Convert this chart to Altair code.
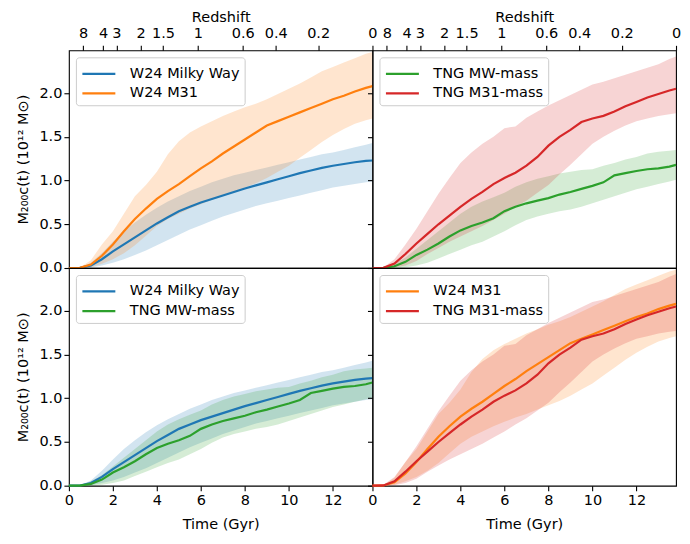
import altair as alt
import pandas as pd

# ---------------- data ----------------
T = [0, 0.5, 1, 1.5, 2, 2.5, 3, 3.5, 4, 4.5, 5, 5.5, 6, 6.5, 7, 7.5, 8, 8.5,
     9, 9.5, 10, 10.5, 11, 11.5, 12, 12.5, 13, 13.5, 13.8]

W24_MW_MED = [0, 0.002, 0.03, 0.10, 0.19, 0.27, 0.35, 0.43, 0.51, 0.58, 0.65, 0.70, 0.75, 0.79, 0.83,
              0.87, 0.91, 0.945, 0.98, 1.015, 1.05, 1.085, 1.115, 1.145, 1.17, 1.19, 1.21, 1.225, 1.23]
W24_MW_LO = [0, 0, 0.005, 0.03, 0.06, 0.10, 0.15, 0.20, 0.26, 0.32, 0.38, 0.44, 0.49, 0.54, 0.59,
             0.63, 0.67, 0.71, 0.74, 0.77, 0.80, 0.83, 0.86, 0.89, 0.92, 0.94, 0.96, 0.98, 0.99]
W24_MW_HI = [0, 0.005, 0.06, 0.17, 0.30, 0.42, 0.52, 0.61, 0.69, 0.76, 0.82, 0.88, 0.93, 0.98, 1.02,
             1.06, 1.09, 1.12, 1.15, 1.18, 1.21, 1.24, 1.27, 1.30, 1.32, 1.35, 1.38, 1.41, 1.43]

W24_M31_MED = [0, 0.002, 0.04, 0.14, 0.27, 0.42, 0.56, 0.68, 0.79, 0.88, 0.96, 1.05, 1.14, 1.22, 1.31,
               1.39, 1.47, 1.55, 1.63, 1.68, 1.73, 1.78, 1.83, 1.88, 1.93, 1.97, 2.02, 2.06, 2.08]
W24_M31_LO = [0, 0, 0.01, 0.05, 0.10, 0.17, 0.26, 0.37, 0.48, 0.56, 0.62, 0.68, 0.73, 0.78, 0.82,
              0.87, 0.92, 0.97, 1.03, 1.10, 1.17, 1.26, 1.35, 1.44, 1.52, 1.59, 1.65, 1.69, 1.71]
W24_M31_HI = [0, 0.005, 0.09, 0.27, 0.42, 0.62, 0.82, 0.95, 1.10, 1.30, 1.45, 1.55, 1.62, 1.68, 1.74,
              1.79, 1.84, 1.88, 1.93, 1.99, 2.05, 2.11, 2.18, 2.25, 2.30, 2.35, 2.40, 2.45, 2.47]

TNG_MW_MED = [0, 0.001, 0.02, 0.07, 0.15, 0.21, 0.28, 0.36, 0.43, 0.48, 0.52, 0.57, 0.65, 0.70, 0.74,
              0.77, 0.80, 0.84, 0.87, 0.905, 0.94, 0.98, 1.06, 1.085, 1.11, 1.13, 1.14, 1.16, 1.18]
TNG_MW_LO = [0, 0, 0.0, 0.01, 0.03, 0.06, 0.11, 0.16, 0.21, 0.26, 0.30, 0.36, 0.42, 0.49, 0.55,
             0.59, 0.62, 0.65, 0.67, 0.70, 0.74, 0.78, 0.82, 0.86, 0.90, 0.93, 0.96, 0.99, 1.01]
TNG_MW_HI = [0, 0.003, 0.05, 0.12, 0.22, 0.32, 0.42, 0.52, 0.62, 0.70, 0.76, 0.81, 0.86, 0.93, 0.98,
             1.02, 1.05, 1.08, 1.10, 1.12, 1.13, 1.17, 1.20, 1.24, 1.27, 1.31, 1.33, 1.34, 1.35]

TNG_M31_MED = [0, 0.003, 0.05, 0.16, 0.28, 0.39, 0.50, 0.60, 0.70, 0.79, 0.87, 0.96, 1.03, 1.09, 1.17,
               1.27, 1.40, 1.50, 1.58, 1.67, 1.71, 1.74, 1.79, 1.85, 1.90, 1.95, 1.99, 2.03, 2.05]
TNG_M31_LO = [0, 0, 0.005, 0.03, 0.08, 0.16, 0.23, 0.30, 0.36, 0.42, 0.48, 0.55, 0.62, 0.70, 0.77,
              0.86, 0.95, 1.07, 1.18, 1.30, 1.42, 1.50, 1.57, 1.63, 1.68, 1.71, 1.74, 1.76, 1.77]
TNG_M31_HI = [0, 0.01, 0.10, 0.27, 0.45, 0.65, 0.85, 1.03, 1.20, 1.32, 1.42, 1.50, 1.60, 1.62, 1.72,
              1.79, 1.86, 1.92, 1.98, 2.04, 2.10, 2.13, 2.17, 2.21, 2.25, 2.29, 2.33, 2.39, 2.42]

SERIES = ["W24 Milky Way", "W24 M31", "TNG MW-mass", "TNG M31-mass"]
COLORS = {"W24 Milky Way": "#1f77b4", "W24 M31": "#ff7f0e",
          "TNG MW-mass": "#2ca02c", "TNG M31-mass": "#d62728"}
VALUES = {
    "W24 Milky Way": (W24_MW_MED, W24_MW_LO, W24_MW_HI),
    "W24 M31": (W24_M31_MED, W24_M31_LO, W24_M31_HI),
    "TNG MW-mass": (TNG_MW_MED, TNG_MW_LO, TNG_MW_HI),
    "TNG M31-mass": (TNG_M31_MED, TNG_M31_LO, TNG_M31_HI),
}

PANELS = [["W24 Milky Way", "W24 M31"], ["TNG MW-mass", "TNG M31-mass"],
          ["W24 Milky Way", "TNG MW-mass"], ["W24 M31", "TNG M31-mass"]]

# top axis: redshift labels at the corresponding cosmic time (Gyr)
Z_LABELS = ["8", "4", "3", "2", "1.5", "1", "0.6", "0.4", "0.2", "0"]
Z_TIMES = [0.65, 1.55, 2.16, 3.26, 4.28, 5.86, 7.9, 9.4, 11.33, 13.8]
T_TICKS = [0, 2, 4, 6, 8, 10, 12]
Y_TICKS = [0, 0.5, 1.0, 1.5, 2.0]
Y_TITLE = "M₂₀₀c(t) (10¹² M⊙)"

rows = []
for s in SERIES:
    med, lo, hi = VALUES[s]
    for t, m, l, h in zip(T, med, lo, hi):
        rows.append({"series": s, "t": t, "med": m, "lo": l, "hi": h})
df = pd.DataFrame(rows)

FONT = "DejaVu Sans"
FS = 14.5
W, H = 304, 218

z_expr = "[" + ",".join("'%s'" % z for z in Z_LABELS) + "][indexof([" + \
    ",".join(str(v) for v in Z_TIMES) + "], datum.value)]"


def panel(series_list, top, left):
    d = df[df["series"].isin(series_list)]
    cols = [COLORS[s] for s in series_list]
    if top:
        xaxis = alt.Axis(orient="top", values=Z_TIMES, labelExpr=z_expr, title="Redshift",
                         labelFlush=False, labelOverlap=False, labelPadding=5, titlePadding=1)
    else:
        xaxis = alt.Axis(orient="bottom", values=T_TICKS, format="d", title="Time (Gyr)",
                         labelFlush=False, labelOverlap=False, labelPadding=3, titlePadding=10)
    xs = alt.Scale(domain=[0, 13.8], nice=False, zero=False)
    ys = alt.Scale(domain=[0, 2.49], nice=False, zero=False)
    if left:
        yaxis = alt.Axis(values=Y_TICKS, format=".1f", title=Y_TITLE, titlePadding=8)
    else:
        yaxis = alt.Axis(values=Y_TICKS, labels=False, title=None)
    layers = []
    for s in series_list:
        layers.append(
            alt.Chart(d[d["series"] == s]).mark_area(
                color=COLORS[s], fillOpacity=0.2, strokeWidth=0
            ).encode(
                x=alt.X("t:Q", scale=xs, axis=xaxis),
                y=alt.Y("lo:Q", scale=ys, axis=yaxis),
                y2="hi:Q",
            )
        )
    line = alt.Chart(d).mark_line(strokeWidth=2.2).encode(
        x=alt.X("t:Q", scale=xs, axis=xaxis),
        y=alt.Y("med:Q", scale=ys, axis=yaxis),
        color=alt.Color("series:N", scale=alt.Scale(domain=series_list, range=cols),
                        legend=alt.Legend(title=None, orient="top-left", offset=7)),
    )
    layers.append(line)
    return alt.layer(*layers).properties(width=W, height=H)


charts = [panel(PANELS[0], True, True), panel(PANELS[1], True, False),
          panel(PANELS[2], False, True), panel(PANELS[3], False, False)]

chart = alt.concat(*charts, columns=2, spacing=0, bounds="flush").resolve_scale(
    color="independent"
).properties(
    padding={"left": 7, "top": 0, "right": 0, "bottom": 0}
).configure_view(
    stroke="black", strokeWidth=1.1
).configure_axis(
    labelFont=FONT, labelFontSize=FS, titleFont=FONT, titleFontSize=FS,
    titleFontWeight="normal", labelColor="black", titleColor="black",
    tickColor="black", tickSize=5, tickWidth=1.1, domain=False, grid=False,
).configure_legend(
    labelFont=FONT, labelFontSize=FS, labelColor="black",
    symbolType="M-1,0H2.3", symbolSize=400, symbolStrokeWidth=2.2,
    labelOffset=26, rowPadding=1.6, padding=5,
    fillColor="rgba(255,255,255,0.8)", strokeColor="#cccccc", cornerRadius=3,
)

chart.save("out.html", embed_options={"renderer": "svg", "actions": False})
